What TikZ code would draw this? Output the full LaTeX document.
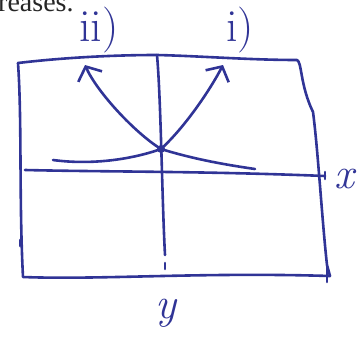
\documentclass[tikz,border=0pt]{standalone}
\usepackage{fontspec}
\newfontfamily\printfont{Liberation Serif}
\usetikzlibrary{arrows.meta}
\definecolor{ink}{RGB}{48,52,150}

\tikzset{
  pen/.style={draw=ink,line width=2.6pt,line cap=round,line join=round},
  hand/.style={text=ink,font=\fontsize{46}{46}\selectfont,inner sep=0pt},
  dot/.style={circle,fill=ink,inner sep=0pt,minimum size=8pt}
}

\begin{document}
\begin{tikzpicture}[x=1pt,y=-1pt,>={Straight Barb[length=11pt,width=26pt]}]
    \useasboundingbox (0,0) rectangle (363,340);

    % corners of the box
    \coordinate (tl) at (18,63);
    \coordinate (tr) at (297,60);
    \coordinate (bl) at (23,277);
    \coordinate (br) at (330,276);
    \coordinate (top) at (157,55);
    \coordinate (bot) at (165,255);
    \coordinate (xl) at (25,170);
    \coordinate (xr) at (325,176);

    % the point and the arrow tips
    \node[dot] (p) at (161,149) {};
    \coordinate (ii) at (85,65);
    \coordinate (i) at (223,65);
    \coordinate (fl) at (53,160);
    \coordinate (fr) at (255,169);

    % text
    \node[anchor=base west,inner sep=0pt,font=\printfont\fontsize{28}{28}\selectfont,text=black!85] (rest) at (-2,11) {reases.};
    \node[hand] (lii) at (99,30) {ii)};
    \node[hand] (li) at (240,30) {i)};
    \node[hand,font=\fontsize{44}{44}\selectfont\itshape] (lx) at (344,179) {x};
    \node[hand,font=\fontsize{44}{44}\selectfont\itshape] (ly) at (166,313) {y};

    % box
    \draw[pen] (tl) .. controls (60,58) and (110,55) .. (top)
               .. controls (200,56) and (250,60) .. (tr)
               .. controls (302,62) and (300,85) .. (313,112)
               .. controls (318,150) and (322,220) .. (327,265) -- (br);
    \draw[pen] (tl) .. controls (22,120) and (19,200) .. (bl)
               .. controls (100,280) and (200,272) .. (br);
    \draw[pen] (20,240) -- (20,246);
    \draw[pen] (327,266) -- (327,282);

    % axes
    \draw[pen] (top) .. controls (161,100) and (162,200) .. (bot);
    \draw[pen] (165,263) -- (165,269);
    \draw[pen] (xl) .. controls (110,172) and (200,171) .. (xr);
    \draw[pen] (325,172) -- (325,179);

    % curves
    \draw[pen] (fl) .. controls (90,165) and (130,160) .. (p.center)
               .. controls (190,158) and (220,164) .. (fr);
    \draw[pen,->] (p.center) .. controls (135,133) and (97,92) .. (ii);
    \draw[pen,->] (p.center) .. controls (185,127) and (210,90) .. (i);
\end{tikzpicture}
\end{document}
